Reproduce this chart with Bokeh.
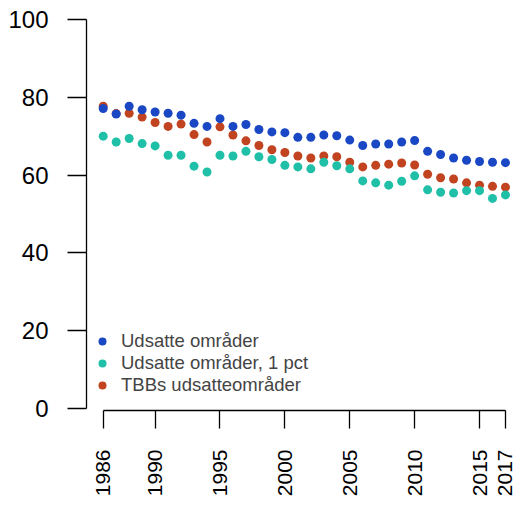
import math
from bokeh.plotting import figure
from bokeh.models import FixedTicker, Legend, LegendItem, Range1d
from bokeh.embed import file_html
from bokeh.resources import INLINE

years = list(range(1986, 2018))
udsatte = [77.1, 75.7, 77.7, 76.8, 76.2, 75.9, 75.4, 73.3, 72.5, 74.5, 72.5, 73.0,
           71.7, 71.1, 70.9, 69.7, 69.7, 70.3, 70.1, 69.0, 67.6, 68.0, 68.0, 68.5,
           68.9, 66.1, 65.3, 64.4, 63.8, 63.5, 63.3, 63.2]
udsatte_1pct = [70.0, 68.5, 69.4, 68.1, 67.5, 65.1, 65.1, 62.3, 60.8, 65.1, 64.9, 66.1,
                64.7, 64.0, 62.5, 62.1, 61.6, 63.3, 62.4, 61.6, 58.5, 58.0, 57.4, 58.4,
                59.8, 56.2, 55.6, 55.4, 56.0, 56.0, 54.0, 54.9]
tbb = [77.7, 75.8, 75.9, 74.9, 73.5, 72.5, 73.1, 70.4, 68.5, 72.4, 70.3, 68.8,
       67.6, 66.5, 65.8, 64.9, 64.4, 64.9, 64.7, 63.3, 62.1, 62.5, 62.8, 63.1,
       62.6, 60.2, 59.3, 59.0, 58.0, 57.4, 57.1, 56.9]

x_ticks = [1986, 1990, 1995, 2000, 2005, 2010, 2015, 2017]
y_ticks = [0, 20, 40, 60, 80, 100]
labels = ["Udsatte områder", "Udsatte områder, 1 pct", "TBBs udsatteområder"]
colors = ["#1a47c4", "#1fbfa8", "#c2431f"]

FONT = "Liberation Sans"

p = figure(width=519, height=499, output_backend="svg", toolbar_location=None,
           x_range=Range1d(1984.713, 2018.08), y_range=Range1d(-0.51, 102.3),
           min_border_left=86, min_border_right=0, min_border_top=10,
           min_border_bottom=88)
p.outline_line_color = None
p.xgrid.visible = False
p.ygrid.visible = False
p.background_fill_color = "white"
p.border_fill_color = "white"

r_red = p.scatter(years, tbb, size=9, color=colors[2], line_color=None)
r_teal = p.scatter(years, udsatte_1pct, size=9, color=colors[1], line_color=None)
r_blue = p.scatter(years, udsatte, size=9, color=colors[0], line_color=None)

for ax, ticks in ((p.xaxis[0], x_ticks), (p.yaxis[0], y_ticks)):
    ax.ticker = FixedTicker(ticks=ticks)
    ax.minor_tick_line_color = None
    ax.major_tick_in = 0
    ax.major_label_text_font = FONT
    ax.major_label_text_color = "black"
    ax.axis_line_color = "black"
    ax.axis_line_width = 1.3
    ax.major_tick_line_width = 1.3
    ax.major_tick_line_color = "black"

p.xaxis[0].bounds = (1986, 2017)
p.xaxis[0].major_tick_out = 18
p.xaxis[0].major_label_standoff = 21
p.xaxis[0].major_label_orientation = math.pi / 2
p.xaxis[0].major_label_text_font_size = "21px"
p.yaxis[0].bounds = (0, 100)
p.yaxis[0].major_tick_out = 19
p.yaxis[0].major_label_standoff = 19
p.yaxis[0].major_label_text_font_size = "24px"

legend = Legend(items=[LegendItem(label=labels[0], renderers=[r_blue]),
                       LegendItem(label=labels[1], renderers=[r_teal]),
                       LegendItem(label=labels[2], renderers=[r_red])],
                location=(6, 14), padding=0, margin=0, spacing=0,
                glyph_width=20, glyph_height=22, label_height=22,
                label_standoff=9, label_text_font=FONT,
                label_text_font_size="18.5px", background_fill_alpha=0,
                border_line_color=None)
p.add_layout(legend)

open("out.html", "w").write(file_html(p, INLINE))
